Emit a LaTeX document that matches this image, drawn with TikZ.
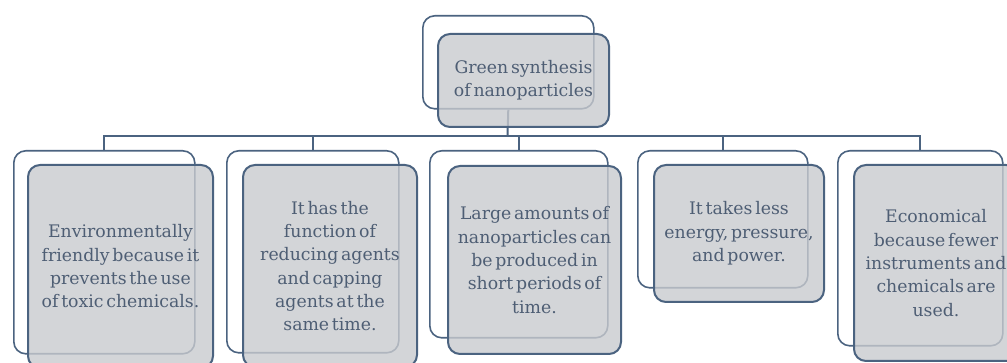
\documentclass[tikz,border=0pt]{standalone}
\usepackage{fontspec}
\setmainfont{DejaVu Serif}
\definecolor{lc}{HTML}{4B6380}
\definecolor{fc}{HTML}{C8CACE}
\definecolor{tc}{HTML}{4E5E74}
\newcommand\myboxfont{\fontsize{17.3}{23.3}\selectfont\spaceskip=0.16em plus 0.05em\relax}
\begin{document}
\begin{tikzpicture}[x=1pt,y=-1pt,
  backbox/.style={draw=lc, line width=1.6pt, rounded corners=12pt, anchor=north west, inner sep=0pt},
  frontbox/.style={draw=lc, line width=2pt, rounded corners=12pt, fill=fc, fill opacity=0.8, text opacity=1,
    anchor=north west, inner sep=0pt, align=center, text=tc, font=\myboxfont},
  conn/.style={draw=lc, line width=2pt}]
\useasboundingbox (0,0) rectangle (1007,363);
\clip (0,0) rectangle (1007,363);
% back boxes
\node[backbox, minimum width=171pt, minimum height=93pt] (tb) at (422,15) {};
\node[backbox, minimum width=181pt, minimum height=203pt] (b1) at (13,150) {};
\node[backbox, minimum width=172pt, minimum height=202pt] (b2) at (226,150) {};
\node[backbox, minimum width=178pt, minimum height=187pt] (b3) at (429,150) {};
\node[backbox, minimum width=170pt, minimum height=137pt] (b4) at (637,150) {};
\node[backbox, minimum width=165pt, minimum height=195pt] (b5) at (837,150) {};
% connectors
\coordinate (j) at (507.5,136);
\draw[conn] (tb.south) -- (j);
\draw[conn] (j) -| (b1.north);
\draw[conn] (j) -| (b2.north);
\draw[conn] (j) -| (b3.north);
\draw[conn] (j) -| (b4.north);
\draw[conn] (j) -| (b5.north);
% front boxes
\node[frontbox, minimum width=171pt, minimum height=93pt] (tf) at (437,33) {Green synthesis\\of nanoparticles};
\node[frontbox, minimum width=185pt, minimum height=203pt] (f1) at (27,164) {Environmentally\\friendly because it\\prevents the use\\of toxic chemicals.};
\node[frontbox, minimum width=174pt, minimum height=202pt] (f2) at (242,164) {It has the\\function of\\reducing agents\\and capping\\agents at the\\same time.};
\node[frontbox, minimum width=173pt, minimum height=188pt] (f3) at (447,165) {Large amounts of\\nanoparticles can\\be produced in\\short periods of\\time.};
\node[frontbox, minimum width=170pt, minimum height=137pt] (f4) at (653,164) {It takes less\\energy, pressure,\\and power.};
\node[frontbox, minimum width=164pt, minimum height=196pt] (f5) at (853,164) {Economical\\because fewer\\instruments and\\chemicals are\\used.};
\end{tikzpicture}
\end{document}
